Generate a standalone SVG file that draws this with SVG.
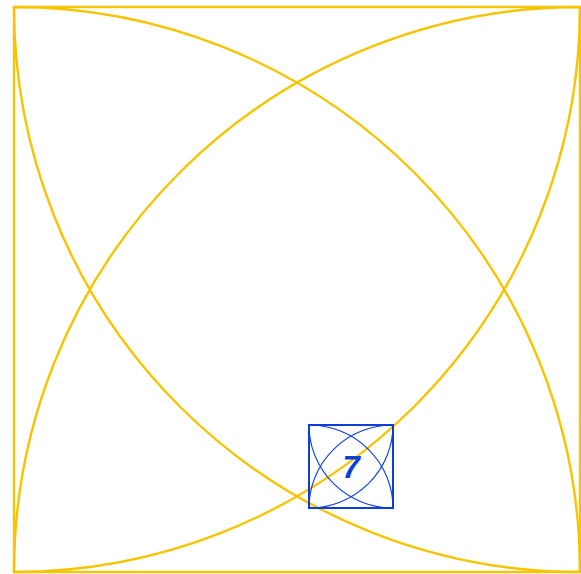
<svg xmlns="http://www.w3.org/2000/svg" width="581" height="574" viewBox="0 0 581 574">
<style>
.big{fill:none;stroke:#f6c400;stroke-width:2.4}
.sq{fill:none;stroke:#0a3fd8;stroke-width:2}
.arc{fill:none;stroke:#0a3fd8;stroke-width:1.1}
.lbl{font-family:"Liberation Sans",Arial,sans-serif;font-weight:bold;font-style:italic;font-size:31px;fill:#0a3fd8;text-anchor:middle}
</style>
<rect width="581" height="574" fill="#ffffff"/>
<g id="large">
<rect class="big" x="14" y="7" width="566" height="565"/>
<path class="big" d="M14,7 A566,565 0 0 1 580,572 M14,7 A566,565 0 0 0 580,572 M580,7 A566,565 0 0 0 14,572 M580,7 A566,565 0 0 1 14,572"/>
</g>
<g id="small">
<rect class="sq" x="309" y="425" width="84" height="83"/>
<path class="arc" d="M309,425 A84,83 0 0 1 393,508 M309,425 A84,83 0 0 0 393,508 M393,425 A84,83 0 0 0 309,508 M393,425 A84,83 0 0 1 309,508"/>
<text class="lbl" x="351" y="478">7</text>
</g>
</svg>
